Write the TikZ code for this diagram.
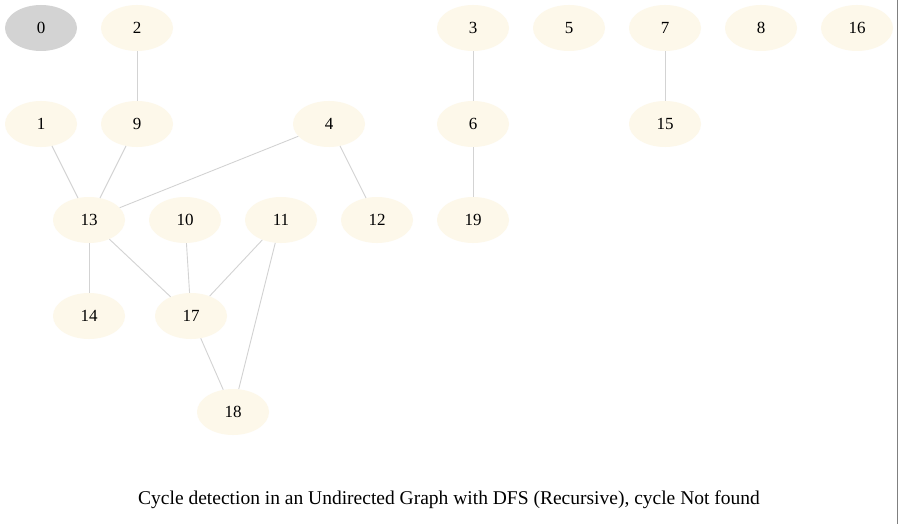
\documentclass[tikz,border=0pt]{standalone}
\usepackage{fontspec}
\setmainfont{Liberation Serif}
\usetikzlibrary{shapes.geometric}
\definecolor{nodefill}{HTML}{FDF8EA}
\definecolor{startfill}{HTML}{D3D3D3}
\definecolor{edgecol}{HTML}{D3D3D3}
\begin{document}
\begin{tikzpicture}[x=1pt,y=-1pt,
  vnode/.style={ellipse,fill=nodefill,minimum width=72pt,minimum height=46pt,inner sep=0pt,font=\fontsize{17}{19}\selectfont},
  snode/.style={vnode,fill=startfill},
  edge/.style={draw=edgecol,line width=0.9pt}]
\useasboundingbox (0,0) rectangle (899,524);
\fill[white] (0,0) rectangle (899,524);
\draw[gray,line width=1.2pt] (897.5,0) -- (897.5,524);
\node[snode] (n0) at (41,28) {0};
\node[vnode] (n2) at (137,28) {2};
\node[vnode] (n3) at (473,28) {3};
\node[vnode] (n5) at (569,28) {5};
\node[vnode] (n7) at (665,28) {7};
\node[vnode] (n8) at (761,28) {8};
\node[vnode] (n16) at (857,28) {16};
\node[vnode] (n1) at (41,124) {1};
\node[vnode] (n9) at (137,124) {9};
\node[vnode] (n4) at (329,124) {4};
\node[vnode] (n6) at (473,124) {6};
\node[vnode] (n15) at (665,124) {15};
\node[vnode] (n13) at (89,220) {13};
\node[vnode] (n10) at (185,220) {10};
\node[vnode] (n11) at (281,220) {11};
\node[vnode] (n12) at (377,220) {12};
\node[vnode] (n19) at (473,220) {19};
\node[vnode] (n14) at (89,316) {14};
\node[vnode] (n17) at (191,316) {17};
\node[vnode] (n18) at (233,412) {18};
\draw[edge] (n2) -- (n9);
\draw[edge] (n1) -- (n13);
\draw[edge] (n9) -- (n13);
\draw[edge] (n4) -- (n13);
\draw[edge] (n4) -- (n12);
\draw[edge] (n3) -- (n6);
\draw[edge] (n6) -- (n19);
\draw[edge] (n7) -- (n15);
\draw[edge] (n13) -- (n14);
\draw[edge] (n13) -- (n17);
\draw[edge] (n10) -- (n17);
\draw[edge] (n11) -- (n17);
\draw[edge] (n11) -- (n18);
\draw[edge] (n17) -- (n18);
\node[font=\fontsize{19.5}{22}\selectfont] (cap) at (449,500) {Cycle detection in an Undirected Graph with DFS (Recursive), cycle Not found};
\end{tikzpicture}
\end{document}
